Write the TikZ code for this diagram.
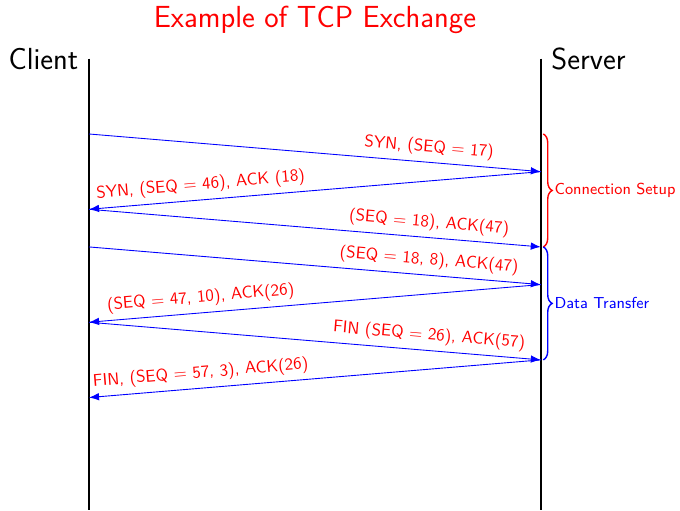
\documentclass[tikz,border=0pt]{standalone}
\usepackage{tikz}
\usetikzlibrary{arrows.meta, positioning, decorations.pathreplacing}

\begin{document}
\begin{tikzpicture}[
  font=\sffamily,
  vida/.style={thick, black},
  msg/.style={-{Latex[length=2mm]}, blue, line width=0.5pt},
  lbl/.style={font=\sffamily\fontsize{9.6}{11}\selectfont, text=red, above, sloped, near end},
  llave/.style={decorate, decoration={brace, amplitude=5pt}, thick},
  fase/.style={font=\sffamily\small, right, xshift=5pt, inner sep=1pt},
]
\useasboundingbox (-1.773,-7.51) rectangle (11.773,2.669);

% --- Lineas de vida ---
\coordinate (ctop) at (0,1.5);
\coordinate (cbot) at (0,-7.5);
\coordinate (stop) at (9,1.5);
\coordinate (sbot) at (9,-7.5);
\draw[vida] (ctop) -- (cbot);
\draw[vida] (stop) -- (sbot);

\node[font=\sffamily\LARGE, left=2.5pt of ctop] (cli) {Client};
\node[font=\sffamily\LARGE, right=2.5pt of stop] (srv) {Server};
\node[font=\sffamily\LARGE, text=red] (titulo) at (4.5,2.27) {Example of TCP Exchange};

% --- Instantes (cliente y servidor) ---
\coordinate (c0) at (0,0);
\coordinate (c2) at (0,-1.5);
\coordinate (c3) at (0,-2.25);
\coordinate (c5) at (0,-3.75);
\coordinate (c7) at (0,-5.25);
\coordinate (s1) at (9,-0.75);
\coordinate (s3) at (9,-2.25);
\coordinate (s4) at (9,-3);
\coordinate (s6) at (9,-4.5);

% --- Mensajes ---
\draw[msg] (c0) -- node[lbl]{SYN, (SEQ = 17)} (s1);
\draw[msg] (s1) -- node[lbl]{SYN, (SEQ = 46), ACK (18)} (c2);
\draw[msg] (c2) -- node[lbl]{(SEQ = 18), ACK(47)} (s3);
\draw[msg] (c3) -- node[lbl]{(SEQ = 18, 8), ACK(47)} (s4);
\draw[msg] (s4) -- node[lbl]{(SEQ = 47, 10), ACK(26)} (c5);
\draw[msg] (c5) -- node[lbl]{FIN (SEQ = 26), ACK(57)} (s6);
\draw[msg] (s6) -- node[lbl]{FIN, (SEQ = 57, 3), ACK(26)} (c7);

% --- Fases ---
\coordinate (b1) at (9.05,0);
\coordinate (b2) at (9.05,-2.25);
\coordinate (b3) at (9.05,-4.5);
\draw[llave, red] (b1) -- node[fase, text=red]{Connection Setup} (b2);
\draw[llave, blue] (b2) -- node[fase, text=blue]{Data Transfer} (b3);

\end{tikzpicture}
\end{document}
